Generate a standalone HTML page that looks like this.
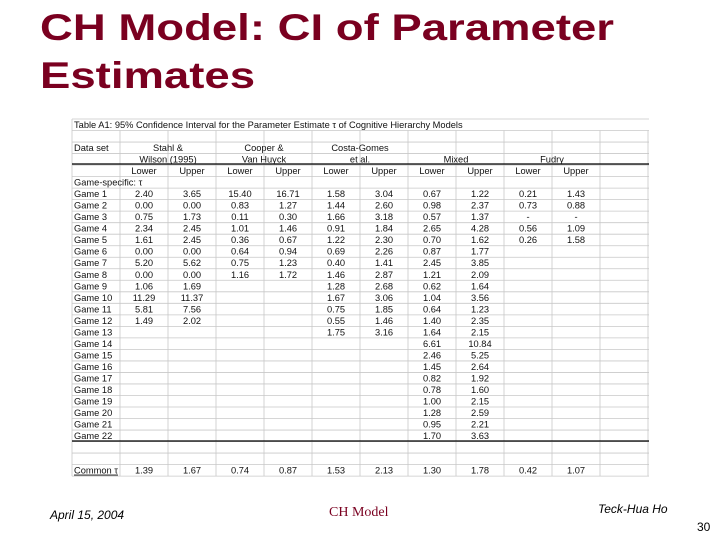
<!DOCTYPE html>
<html><head><meta charset="utf-8"><style>
body{margin:0;background:#fff}
svg{display:block}
</style></head><body>
<svg width="720" height="540" viewBox="0 0 720 540" id="s">
<text x="40" y="40" font-family="Liberation Sans, sans-serif" font-weight="bold" font-size="37" fill="#7a0020" textLength="574" lengthAdjust="spacingAndGlyphs">CH Model: CI of Parameter</text>
<text x="40" y="88" font-family="Liberation Sans, sans-serif" font-weight="bold" font-size="37" fill="#7a0020" textLength="215" lengthAdjust="spacingAndGlyphs">Estimates</text>
<g id="tbl"></g>
<text x="50" y="519" font-family="Liberation Sans, sans-serif" font-style="italic" font-size="12" fill="#000">April 15, 2004</text>
<text x="329" y="516" font-family="Liberation Serif, serif" font-size="14" fill="#7a0020">CH Model</text>
<text x="598" y="513" font-family="Liberation Sans, sans-serif" font-style="italic" font-size="12" fill="#000">Teck-Hua Ho</text>
<text x="697" y="531" font-family="Liberation Sans, sans-serif" font-size="12" fill="#000">30</text>
</svg>
<script>
const gameLabels=["Game 1","Game 2","Game 3","Game 4","Game 5","Game 6","Game 7","Game 8","Game 9","Game 10","Game 11","Game 12","Game 13","Game 14","Game 15","Game 16","Game 17","Game 18","Game 19","Game 20","Game 21","Game 22"];
const stahl=[["2.40","3.65"],["0.00","0.00"],["0.75","1.73"],["2.34","2.45"],["1.61","2.45"],["0.00","0.00"],["5.20","5.62"],["0.00","0.00"],["1.06","1.69"],["11.29","11.37"],["5.81","7.56"],["1.49","2.02"]];
const cooper=[["15.40","16.71"],["0.83","1.27"],["0.11","0.30"],["1.01","1.46"],["0.36","0.67"],["0.64","0.94"],["0.75","1.23"],["1.16","1.72"]];
const costa=[["1.58","3.04"],["1.44","2.60"],["1.66","3.18"],["0.91","1.84"],["1.22","2.30"],["0.69","2.26"],["0.40","1.41"],["1.46","2.87"],["1.28","2.68"],["1.67","3.06"],["0.75","1.85"],["0.55","1.46"],["1.75","3.16"]];
const mixed=[["0.67","1.22"],["0.98","2.37"],["0.57","1.37"],["2.65","4.28"],["0.70","1.62"],["0.87","1.77"],["2.45","3.85"],["1.21","2.09"],["0.62","1.64"],["1.04","3.56"],["0.64","1.23"],["1.40","2.35"],["1.64","2.15"],["6.61","10.84"],["2.46","5.25"],["1.45","2.64"],["0.82","1.92"],["0.78","1.60"],["1.00","2.15"],["1.28","2.59"],["0.95","2.21"],["1.70","3.63"]];
const fudry=[["0.21","1.43"],["0.73","0.88"],["-","-"],["0.56","1.09"],["0.26","1.58"]];
const commonVals=["1.39","1.67","0.74","0.87","1.53","2.13","1.30","1.78","0.42","1.07"];
const datasets=[stahl,cooper,costa,mixed,fudry];

const g=document.getElementById('tbl');
const NS='http://www.w3.org/2000/svg';
const X0=72,CW=48,colX=i=>120+i*CW;
const rowY=r=>119+r*11.52;
function line(x1,y1,x2,y2,c,w,name){const l=document.createElementNS(NS,'line');l.setAttribute('x1',x1);l.setAttribute('y1',y1);l.setAttribute('x2',x2);l.setAttribute('y2',y2);l.setAttribute('stroke',c);l.setAttribute('stroke-width',w);


g.appendChild(l);}
function txt(x,y,s,anchor,name,extra){const t=document.createElementNS(NS,'text');t.setAttribute('x',x);t.setAttribute('y',y);t.setAttribute('font-family','Liberation Sans, sans-serif');t.setAttribute('font-size','9.3');t.setAttribute('fill','#111');t.setAttribute('text-anchor',anchor);if(extra)t.setAttribute('text-decoration',extra);t.textContent=s;


g.appendChild(t);}
const NR=31, yEnd=rowY(NR);
for(let r=0;r<=NR;r++) line(X0,rowY(r),649,rowY(r),'#c8c8c8',0.8,'grid-row-line');
line(X0,rowY(0),X0,yEnd,'#c8c8c8',0.8,'grid-col-line');
for(let i=0;i<=11;i++) line(colX(i),rowY(1),colX(i),yEnd,'#c8c8c8',0.8,'grid-col-line');
line(X0,164,649,164,'#000',1.2,'header-rule');
line(X0,441,649,441,'#000',1.2,'body-rule');
const baseY=r=>rowY(r)+9;
txt(74,baseY(0),'Table A1: 95% Confidence Interval for the Parameter Estimate τ  of Cognitive Hierarchy Models','start','table-caption');
txt(74,baseY(2),'Data set','start','data-set-header');
const grpTop=["Stahl &","Cooper &","Costa-Gomes","",""];
const grpBot=["Wilson (1995)","Van Huyck","et al.","Mixed","Fudry"];
for(let k=0;k<5;k++){const cx=colX(2*k)+CW;
 if(grpTop[k])txt(cx,baseY(2),grpTop[k],'middle','dataset-name');
 txt(cx,baseY(3),grpBot[k],'middle','dataset-name');
 txt(colX(2*k)+CW/2,baseY(4),'Lower','middle','lower-header');
 txt(colX(2*k)+CW*1.5,baseY(4),'Upper','middle','upper-header');}
txt(74,baseY(5),'Game-specific: τ','start','game-specific-label');
gameLabels.forEach((s,j)=>txt(74,baseY(6+j),s,'start','game-label'));
datasets.forEach((d,k)=>d.forEach((p,j)=>{
 txt(colX(2*k)+CW/2,baseY(6+j),p[0],'middle','lower-value');
 txt(colX(2*k)+CW*1.5,baseY(6+j),p[1],'middle','upper-value');}));
txt(74,baseY(30),'Common τ','start','common-label','underline');
commonVals.forEach((v,i)=>txt(colX(i)+CW/2,baseY(30),v,'middle','common-value'));
</script>
</body></html>
